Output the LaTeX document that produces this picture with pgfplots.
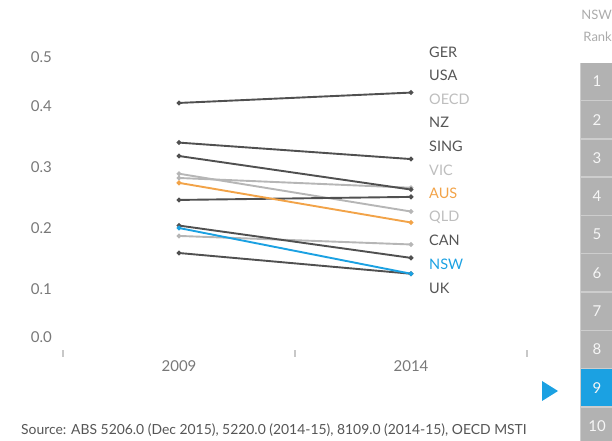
\documentclass[border=0pt]{standalone}
\usepackage{fontspec}
\setmainfont{Lato}
\usepackage{pgfplots}
\pgfplotsset{compat=1.18}
\definecolor{darkln}{RGB}{80,80,80}
\definecolor{lightln}{RGB}{182,182,182}
\definecolor{orangeln}{RGB}{242,163,72}
\definecolor{blueln}{RGB}{27,161,226}
\definecolor{ticktxt}{RGB}{120,120,120}
\definecolor{tickgray}{RGB}{200,200,200}
\definecolor{lbldark}{RGB}{85,85,85}
\definecolor{lbllight}{RGB}{190,190,190}
\definecolor{rankbox}{RGB}{178,178,178}
\definecolor{rankgap}{RGB}{205,205,205}
\pgfplotsset{
  darkseries/.style={darkln,line width=1.9bp,mark=*,mark size=1.3bp},
  lightseries/.style={lightln,line width=1.9bp,mark=*,mark size=1.3bp},
}

\begin{document}
\begin{tikzpicture}
\useasboundingbox (0,0) rectangle (612bp,441bp);
\begin{axis}[at={(63bp,91bp)},anchor=south west,scale only axis,
  width=464bp,height=305bp,xmin=0,xmax=2,ymin=0,ymax=0.5,
  axis x line*=bottom,axis y line*=left,axis line style={draw=none},
  clip=false,font=\fontsize{15bp}{18bp}\selectfont,
  tick align=outside,major tick length=7bp,
  xtick={0,1,2},xticklabels={},xtick style={draw=tickgray,line width=1.2bp},
  extra x ticks={0.5,1.5},extra x tick labels={2009,2014},
  extra x tick style={major tick length=0pt,
    xticklabel style={inner sep=0pt,anchor=north,yshift=-10bp,text=ticktxt}},
  ytick={0.0213,0.1,0.2,0.3,0.4,0.48},yticklabels={0.0,0.1,0.2,0.3,0.4,0.5},
  ytick style={draw=none},
  yticklabel style={inner sep=0pt,anchor=east,xshift=-4bp,text=ticktxt},
  /pgf/number format/assume math mode=true]
% 2009 at x=0.5, 2014 at x=1.5
\addplot[lightseries] coordinates {(0.5,0.282) (1.5,0.266)}; % OECD
\addplot[lightseries] coordinates {(0.5,0.289) (1.5,0.227)}; % VIC
\addplot[lightseries] coordinates {(0.5,0.187) (1.5,0.173)}; % QLD
\addplot[darkseries] coordinates {(0.5,0.405) (1.5,0.422)}; % GER
\addplot[darkseries] coordinates {(0.5,0.340) (1.5,0.313)}; % USA
\addplot[darkseries] coordinates {(0.5,0.318) (1.5,0.263)}; % NZ
\addplot[darkseries] coordinates {(0.5,0.246) (1.5,0.251)}; % SING
\addplot[darkseries] coordinates {(0.5,0.204) (1.5,0.151)}; % CAN
\addplot[darkseries] coordinates {(0.5,0.159) (1.5,0.125)}; % UK
\addplot[orangeln,line width=1.9bp,mark=*,mark size=1.3bp] coordinates {(0.5,0.274) (1.5,0.209)}; % AUS
\addplot[blueln,line width=1.9bp,mark=*,mark size=1.3bp] coordinates {(0.5,0.200) (1.5,0.125)}; % NSW
\end{axis}
% series labels, evenly spaced
\begin{scope}[every node/.style={anchor=west,inner sep=0pt,font=\fontsize{14.5bp}{17bp}\selectfont}]
\node[text=lbldark]   at (429bp,389bp) {GER};
\node[text=lbldark]   at (429bp,365.4bp) {USA};
\node[text=lbllight]  at (429bp,341.8bp) {OECD};
\node[text=lbldark]   at (429bp,318.2bp) {NZ};
\node[text=lbldark]   at (429bp,294.6bp) {SING};
\node[text=lbllight]  at (429bp,271bp) {VIC};
\node[text=orangeln]  at (429bp,247.4bp) {AUS};
\node[text=lbllight]  at (429bp,223.8bp) {QLD};
\node[text=lbldark]   at (429bp,200.2bp) {CAN};
\node[text=blueln]    at (429bp,176.6bp) {NSW};
\node[text=lbldark]   at (429bp,153bp) {UK};
\end{scope}
% source
\node[anchor=west,inner sep=0pt,text=lbldark,font=\fontsize{13.9bp}{16bp}\selectfont]
  at (21bp,11bp) {Source: ABS 5206.0 (Dec 2015), 5220.0 (2014-15), 8109.0 (2014-15), OECD MSTI};
% rank column
\node[anchor=east,inner sep=0pt,text=lbllight!90!black,font=\fontsize{13bp}{15bp}\selectfont] at (612bp,426bp) {NSW};
\node[anchor=east,inner sep=0pt,text=lbllight!90!black,font=\fontsize{13bp}{15bp}\selectfont] at (612bp,404bp) {Rank};
\fill[rankgap] (580bp,0bp) rectangle (612bp,378bp);
\foreach \i in {1,...,10}{
  \pgfmathsetmacro{\top}{378-38.3*(\i-1)}
  \pgfmathsetmacro{\bot}{\top-36.8}
  \ifnum\i=9 \def\bx{blueln}\else \def\bx{rankbox}\fi
  \fill[\bx] (581bp,\bot bp) rectangle (612bp,\top bp);
  \node[text=white!93!gray,font=\fontsize{15bp}{18bp}\selectfont] at (597bp,\top bp-18.4bp) {\i};
}
\fill[blueln] (542bp,60bp) -- (558bp,50bp) -- (542bp,40bp) -- cycle;
\end{tikzpicture}
\end{document}
